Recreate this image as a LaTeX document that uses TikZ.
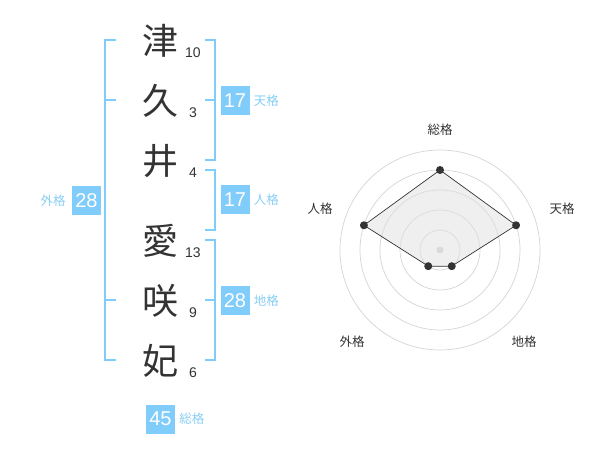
\documentclass[tikz,border=0pt]{standalone}
\usepackage{fontspec}
\setmainfont{Liberation Sans}
\newfontfamily\jpfont{Noto Sans CJK JP}
\usetikzlibrary{positioning}
\definecolor{kakuBlue}{RGB}{128,204,250}
\definecolor{kakuText}{RGB}{135,206,245}
\definecolor{inkGray}{RGB}{51,51,51}
\definecolor{ringGray}{RGB}{212,212,212}
\tikzstyle{kanji}=[text=inkGray, inner sep=0pt,
	font=\jpfont\fontsize{36}{36}\selectfont]
\tikzstyle{strokeNum}=[text=inkGray, inner sep=0pt,
	font=\fontsize{14}{14}\selectfont]
\tikzstyle{valBox}=[fill=kakuBlue, text=white, minimum size=29pt,
	inner sep=0pt, font=\fontsize{20}{20}\selectfont]
\tikzstyle{kakuLabel}=[text=kakuText, inner sep=0pt,
	font=\jpfont\fontsize{12.5}{12.5}\selectfont]
\tikzstyle{bracket}=[draw=kakuBlue, line width=2pt]
\tikzstyle{ring}=[draw=ringGray, line width=0.7pt]
\tikzstyle{dot}=[circle, fill=inkGray, minimum size=8pt, inner sep=0pt]
\tikzstyle{axisLabel}=[text=inkGray, inner sep=0pt,
	font=\jpfont\fontsize{12.5}{12.5}\selectfont]
\newcommand{\kanjiNode}[3]{node (k#1) [kanji] {#2}
	+(33,-12) node (n#1) [strokeNum] {#3}}

\begin{document}
\begin{tikzpicture}[x=1pt, y=1pt]
	\useasboundingbox (0,0) rectangle (600,-470);

	% Name, one character a row
	\path (160,-41) \kanjiNode{1}{津}{10};
	\path (160,-101) \kanjiNode{2}{久}{3};
	\path (160,-161) \kanjiNode{3}{井}{4};
	\path (160,-241) \kanjiNode{4}{愛}{13};
	\path (160,-301) \kanjiNode{5}{咲}{9};
	\path (160,-361) \kanjiNode{6}{妃}{6};

	% Brackets
	\draw [bracket] (116,-40) -| (105,-360) -- (116,-360);
	\draw [bracket] (105,-100) -- (116,-100);
	\draw [bracket] (105,-300) -- (116,-300);
	\draw [bracket] (205,-40) -| (215,-160) -- (205,-160);
	\draw [bracket] (205,-100) -- (215,-100);
	\draw [bracket] (205,-170) -| (215,-230) -- (205,-230);
	\draw [bracket] (205,-240) -| (215,-360) -- (205,-360);
	\draw [bracket] (205,-300) -- (215,-300);

	% Values and their labels
	\node (b1) [valBox] at (235,-100.5) {17};
	\node (l1) [kakuLabel, right=4pt of b1] {天格};
	\node (b2) [valBox] at (235,-200) {17};
	\node (l2) [kakuLabel, right=4pt of b2] {人格};
	\node (b3) [valBox] at (235,-300.5) {28};
	\node (l3) [kakuLabel, right=4pt of b3] {地格};
	\node (b4) [valBox] at (86.5,-200.5) {28};
	\node (l4) [kakuLabel, left=6pt of b4] {外格};
	\node (b5) [valBox] at (160.5,-419) {45};
	\node (l5) [kakuLabel, right=4pt of b5] {総格};

	% Radar chart
	\coordinate (c) at (440,-250);
	\foreach \r in {20,40,...,100}
		\draw [ring] (c) circle (\r);
	\fill [ringGray] (c) circle (3.5);
	\path (c)+(90:80) coordinate (v1);
	\path (c)+(18:80) coordinate (v2);
	\path (c)+(-54:20) coordinate (v3);
	\path (c)+(-126:20) coordinate (v4);
	\path (c)+(162:80) coordinate (v5);
	\filldraw [fill=black!12, fill opacity=0.5, draw=inkGray, line width=0.7pt]
		(v1) -- (v2) -- (v3) -- (v4) -- (v5) -- cycle;
	\foreach \i in {1,...,5}
		\node (r\i) [dot] at (v\i) {};
	\path (c)+(0,120) node (a1) [axisLabel] {総格};
	\path (c)+(122,41) node (a2) [axisLabel] {天格};
	\path (c)+(84,-92) node (a3) [axisLabel] {地格};
	\path (c)+(-88,-92) node (a4) [axisLabel] {外格};
	\path (c)+(-120,41) node (a5) [axisLabel] {人格};

\end{tikzpicture}
\end{document}
